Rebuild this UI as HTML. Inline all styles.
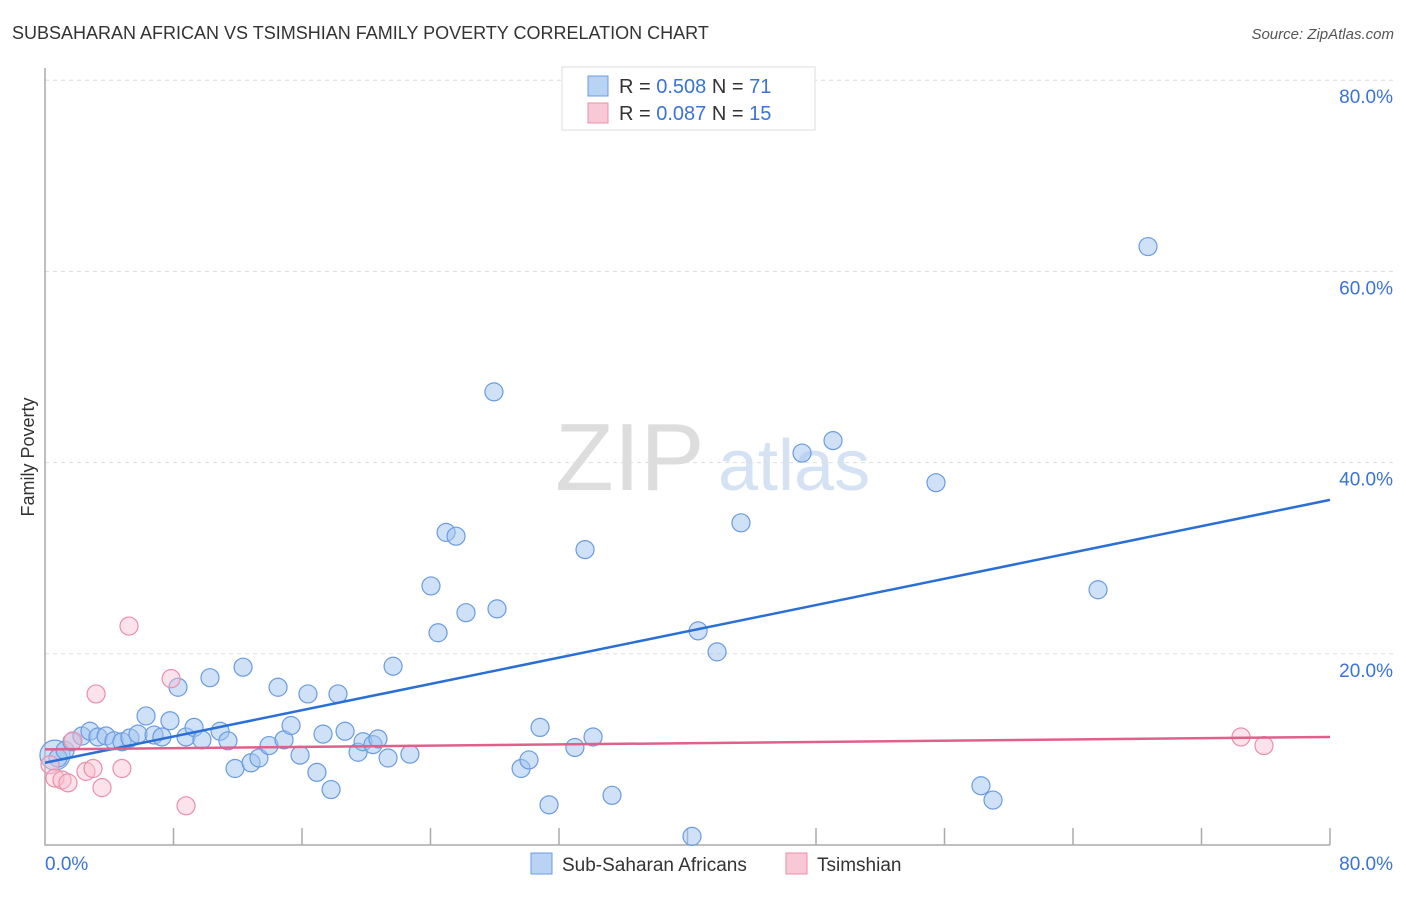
<!DOCTYPE html>
<html><head><meta charset="utf-8"><style>
body{margin:0;background:#fff;font-family:"Liberation Sans",sans-serif;}
svg text{font-family:"Liberation Sans",sans-serif;}
</style></head><body>
<svg id="chart" width="1406" height="892" xmlns="http://www.w3.org/2000/svg">
<text x="12" y="39" font-size="18" fill="#333">SUBSAHARAN AFRICAN VS TSIMSHIAN FAMILY POVERTY CORRELATION CHART</text>
<text x="1394" y="39" font-size="15" fill="#555" font-style="italic" text-anchor="end">Source: ZipAtlas.com</text>
<g><text x="555" y="490" font-size="96" fill="#ddd" font-family="Liberation Serif">ZIP</text><text x="718" y="490" font-size="72" fill="#d4e2f4">atlas</text></g>
<g id="grid"></g><g id="axes"></g><g id="marks"></g>
<text transform="translate(34,457) rotate(-90)" font-size="18" fill="#333" text-anchor="middle">Family Poverty</text>
<g>
<rect x="562" y="67" width="253" height="63" fill="#fff" stroke="#ddd"/>
<rect x="588" y="76" width="20" height="20" fill="#b9d3f5" stroke="#6a9be0"/>
<rect x="588" y="103" width="20" height="20" fill="#f9c8d6" stroke="#ea8fab"/>
<text x="619" y="93" font-size="20" fill="#333">R = <tspan fill="#3a73d8">0.508</tspan>   N = <tspan fill="#3a73d8">71</tspan></text>
<text x="619" y="120" font-size="20" fill="#333">R = <tspan fill="#3a73d8">0.087</tspan>   N = <tspan fill="#3a73d8">15</tspan></text>
</g>
<g>
<rect x="531" y="853" width="21" height="21" fill="#b9d3f5" stroke="#6a9be0"/>
<text x="562" y="871" font-size="19" fill="#333">Sub-Saharan Africans</text>
<rect x="786" y="853" width="21" height="21" fill="#f9c8d6" stroke="#ea8fab"/>
<text x="817" y="871" font-size="19" fill="#333">Tsimshian</text>
</g>
</svg>
<script>
const blueX=[0.62,0.81,1.25,1.68,2.30,2.80,3.30,3.80,4.30,4.79,5.29,5.79,6.29,6.79,7.28,7.78,8.28,8.78,9.28,9.77,10.27,10.90,11.39,11.83,12.33,12.83,13.32,13.95,14.51,14.88,15.32,15.88,16.37,16.93,17.31,17.81,18.24,18.68,19.49,19.80,20.42,20.73,21.36,21.67,22.72,24.03,24.47,24.97,25.59,26.21,27.95,28.14,29.64,30.13,30.82,31.38,32.99,33.62,34.12,35.30,40.28,40.66,41.84,43.33,47.13,49.06,55.47,58.27,59.02,65.56,68.67];
const blueY=[9.4,9.1,9.9,10.8,11.4,11.9,11.3,11.4,10.9,10.8,11.2,11.6,13.5,11.5,11.3,13.0,16.5,11.3,12.3,11.0,17.5,11.9,10.9,8.0,18.6,8.6,9.1,10.4,16.5,11.0,12.5,9.4,15.8,7.6,11.6,5.8,15.8,11.9,9.7,10.8,10.5,11.1,9.1,18.7,9.5,27.1,22.2,32.7,32.3,24.3,47.4,24.7,8.0,8.9,12.3,4.2,10.2,30.9,11.3,5.2,0.9,22.4,20.2,33.7,41.0,42.3,37.9,6.2,4.7,26.7,62.6];
const pinkX=[0.31,0.62,1.06,1.43,1.74,2.55,2.99,3.18,3.55,4.79,5.23,7.85,8.78,74.46,75.89];
const pinkY=[8.4,7.0,6.8,6.5,10.9,7.7,8.0,15.8,6.0,8.0,22.9,17.4,4.1,11.3,10.4];
const blueTrend=[8.6,36.1];
const pinkTrend=[10.0,11.3];
const yTicks=[20,40,60,80];
const xTicks=[8,16,24,32,40,48,56,64,72,80];
const NS="http://www.w3.org/2000/svg";
const sx=v=>45+v/80*1285, sy=v=>845-v*9.56;
function mk(parent,tag,attrs){const e=document.createElementNS(NS,tag);for(const k in attrs)e.setAttribute(k,attrs[k]);document.getElementById(parent).appendChild(e);return e;}
yTicks.forEach(t=>{
 const l=mk('grid','line',{x1:45,x2:1395,y1:sy(t),y2:sy(t),stroke:'#ddd','stroke-dasharray':'4,4'});
 
 
 const tx=mk('grid','text',{x:1393,y:sy(t)+23,'font-size':19,fill:'#3a73d8','text-anchor':'end'});
 tx.textContent=t.toFixed(1)+'%';
 
 
});
const ax=mk('axes','path',{d:'M45,68 V845 H1330',stroke:'#aaa',fill:'none','stroke-width':1.5});


xTicks.forEach(t=>{
 const l=mk('axes','line',{x1:sx(t),x2:sx(t),y1:828,y2:845,stroke:'#aaa','stroke-width':1.5});
 
 
});
const x0=mk('axes','text',{x:45,y:870,'font-size':19,fill:'#3a73d8'});x0.textContent='0.0%';


const x1=mk('axes','text',{x:1393,y:870,'font-size':19,fill:'#3a73d8','text-anchor':'end'});x1.textContent='80.0%';


blueX.forEach((x,i)=>{
 const c=mk('marks','circle',{cx:sx(x),cy:sy(blueY[i]),r:i===0?15:9,fill:'rgba(160,195,240,0.5)',stroke:'#6a9be0','stroke-width':1.2});
 
 
});
pinkX.forEach((x,i)=>{
 const c=mk('marks','circle',{cx:sx(x),cy:sy(pinkY[i]),r:9,fill:'rgba(248,190,208,0.45)',stroke:'#ea8fab','stroke-width':1.2});
 
 
});
const bt=mk('marks','line',{x1:sx(0),y1:sy(blueTrend[0]),x2:sx(80),y2:sy(blueTrend[1]),stroke:'#2a6fd6','stroke-width':2.5});


const pt=mk('marks','line',{x1:sx(0),y1:sy(pinkTrend[0]),x2:sx(80),y2:sy(pinkTrend[1]),stroke:'#e0608a','stroke-width':2.5});


</script>
</body></html>
